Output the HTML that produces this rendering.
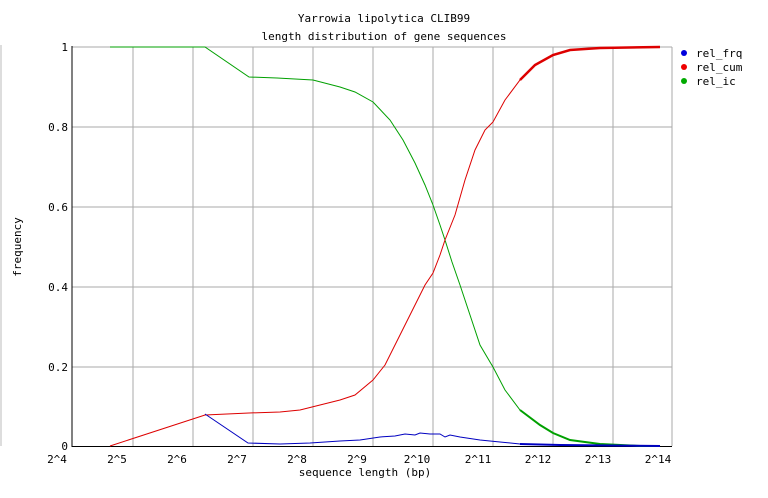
<!DOCTYPE html>
<html><head><style>body{margin:0;background:#fff}svg{display:block}text{font-family:"DejaVu Sans Mono","Liberation Mono",monospace;font-size:11px;fill:#000}</style></head><body>
<svg width="768" height="498" xmlns="http://www.w3.org/2000/svg">
<text x="384" y="22" text-anchor="middle" font-size="12">Yarrowia lipolytica CLIB99</text>
<text x="384" y="40" text-anchor="middle" font-size="12">length distribution of gene sequences</text>
<line x1="1" y1="45" x2="1" y2="446" stroke="#bbb"/>
<g stroke="#aaa" stroke-width="1">
<line x1="133" y1="47" x2="133" y2="446"/><line x1="193" y1="47" x2="193" y2="446"/><line x1="253" y1="47" x2="253" y2="446"/><line x1="313" y1="47" x2="313" y2="446"/><line x1="373" y1="47" x2="373" y2="446"/><line x1="433" y1="47" x2="433" y2="446"/><line x1="493" y1="47" x2="493" y2="446"/><line x1="553" y1="47" x2="553" y2="446"/><line x1="613" y1="47" x2="613" y2="446"/><line x1="672" y1="47" x2="672" y2="446"/>
<line x1="72" y1="47" x2="672" y2="47"/><line x1="72" y1="127" x2="672" y2="127"/><line x1="72" y1="207" x2="672" y2="207"/><line x1="72" y1="287" x2="672" y2="287"/><line x1="72" y1="367" x2="672" y2="367"/>
</g>
<line x1="72" y1="46" x2="72" y2="447" stroke="#000"/>
<line x1="72" y1="446.5" x2="672" y2="446.5" stroke="#000"/>
<g text-anchor="end"><text x="68" y="51">1</text><text x="68" y="131">0.8</text><text x="68" y="211">0.6</text><text x="68" y="291">0.4</text><text x="68" y="371">0.2</text><text x="68" y="450">0</text></g>
<g text-anchor="middle"><text x="57" y="463">2^4</text><text x="117" y="463">2^5</text><text x="177" y="463">2^6</text><text x="237" y="463">2^7</text><text x="297" y="463">2^8</text><text x="357" y="463">2^9</text><text x="417" y="463">2^10</text><text x="478" y="463">2^11</text><text x="538" y="463">2^12</text><text x="598" y="463">2^13</text><text x="658" y="463">2^14</text></g>
<text x="365" y="476" text-anchor="middle" font-size="10">sequence length (bp)</text>
<text transform="translate(21,247) rotate(-90)" text-anchor="middle" font-size="10">frequency</text>
<polyline fill="none" stroke="#00a000" points="110,47 205,47 249,77 277,78 313,80 340,87 355,92 373,102 390,120 403,140 415,163 425,185 433,205 440,225 445,240 452,262 460,285 470,315 480,345 490,362 493,367 505,390 520,410 540,425 553,433 570,440 600,444 640,446 660,446"/>
<polyline fill="none" stroke="#00a000" stroke-width="2" points="520,410 540,425 553,433 570,440 600,444 640,446 660,446"/>
<polyline fill="none" stroke="#dd0000" points="110,446 205,415 249,413 280,412 300,410 320,405 340,400 355,395 373,380 385,365 400,335 415,305 425,285 433,273 440,255 445,240 455,215 465,180 475,150 485,130 493,122 505,100 520,80 535,65 553,55 570,50 600,48 660,47"/>
<polyline fill="none" stroke="#dd0000" stroke-width="2.5" points="520,80 535,65 553,55 570,50 600,48 660,47"/>
<polyline fill="none" stroke="#0000c0" points="205,414 248,443 280,444 310,443 340,441 360,440 380,437 395,436 405,434 415,435 420,433 430,434 440,434 445,437 450,435 460,437 480,440 500,442 520,444 560,445 660,446"/>
<polyline fill="none" stroke="#0000c0" stroke-width="2" points="520,444 560,445 660,446"/>
<circle cx="684" cy="53" r="3" fill="#0000dd"/><text x="696" y="57">rel_frq</text>
<circle cx="684" cy="67" r="3" fill="#ee0000"/><text x="696" y="71">rel_cum</text>
<circle cx="684" cy="81" r="3" fill="#00aa00"/><text x="696" y="85">rel_ic</text>
</svg>
</body></html>
